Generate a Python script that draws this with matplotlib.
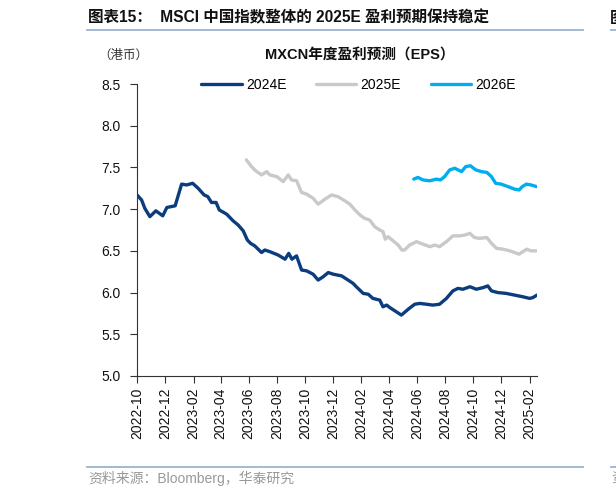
import matplotlib
matplotlib.use('Agg')
import matplotlib.pyplot as plt
import matplotlib.dates as mdates
import numpy as np
import pandas as pd

plt.rcParams['font.family'] = ['Liberation Sans', 'Noto Sans CJK SC', 'DejaVu Sans']

## Data
dates_2024e = ['2022-10-01', '2022-10-11', '2022-10-18', '2022-10-29', '2022-11-11', '2022-11-26',
               '2022-12-05', '2022-12-23', '2023-01-06', '2023-01-17', '2023-01-30', '2023-02-11',
               '2023-02-24', '2023-03-04', '2023-03-12', '2023-03-22', '2023-03-29', '2023-04-14',
               '2023-04-28', '2023-05-09', '2023-05-20', '2023-05-29', '2023-06-05', '2023-06-14',
               '2023-06-29', '2023-07-06', '2023-07-17', '2023-08-04', '2023-08-19', '2023-08-27',
               '2023-09-03', '2023-09-13', '2023-09-24', '2023-10-05', '2023-10-19', '2023-10-30',
               '2023-11-10', '2023-11-21', '2023-12-02', '2023-12-20', '2024-01-03', '2024-01-14',
               '2024-01-21', '2024-02-05', '2024-02-16', '2024-02-26', '2024-03-12', '2024-03-19',
               '2024-03-27', '2024-04-03', '2024-04-17', '2024-04-28', '2024-05-15', '2024-05-27',
               '2024-06-07', '2024-06-22', '2024-07-05', '2024-07-20', '2024-08-04', '2024-08-18',
               '2024-08-29', '2024-09-09', '2024-09-24', '2024-10-08', '2024-10-23', '2024-11-02',
               '2024-11-10', '2024-11-24', '2024-12-12', '2024-12-30', '2025-01-17', '2025-02-01',
               '2025-02-08', '2025-02-17']
eps_2024e = [7.17, 7.11, 7.01, 6.91, 6.98, 6.92, 7.02, 7.04, 7.30, 7.29, 7.31, 7.25,
             7.17, 7.15, 7.08, 7.08, 6.99, 6.94, 6.86, 6.81, 6.74, 6.63, 6.59, 6.56,
             6.48, 6.51, 6.49, 6.45, 6.40, 6.47, 6.40, 6.44, 6.27, 6.26, 6.22, 6.15,
             6.19, 6.24, 6.22, 6.20, 6.15, 6.11, 6.07, 5.99, 5.98, 5.93, 5.91, 5.83,
             5.85, 5.82, 5.77, 5.73, 5.81, 5.86, 5.87, 5.86, 5.85, 5.86, 5.93, 6.02,
             6.05, 6.04, 6.07, 6.04, 6.06, 6.08, 6.02, 6.00, 5.99, 5.97, 5.95, 5.93,
             5.94, 5.97]

dates_2025e = ['2023-05-27', '2023-06-07', '2023-06-16', '2023-06-29', '2023-07-10', '2023-07-17',
               '2023-08-01', '2023-08-15', '2023-08-26', '2023-09-02', '2023-09-13', '2023-09-24',
               '2023-10-05', '2023-10-19', '2023-10-30', '2023-11-14', '2023-11-28', '2023-12-12',
               '2023-12-27', '2024-01-07', '2024-01-18', '2024-01-29', '2024-02-08', '2024-02-19',
               '2024-03-01', '2024-03-12', '2024-03-19', '2024-03-24', '2024-03-30', '2024-04-10',
               '2024-04-21', '2024-04-29', '2024-05-05', '2024-05-16', '2024-05-31', '2024-06-14',
               '2024-06-29', '2024-07-10', '2024-07-20', '2024-08-04', '2024-08-18', '2024-09-02',
               '2024-09-13', '2024-09-24', '2024-10-04', '2024-10-15', '2024-10-31', '2024-11-10',
               '2024-11-21', '2024-12-05', '2024-12-20', '2024-12-30', '2025-01-09', '2025-01-17',
               '2025-01-26', '2025-02-04', '2025-02-16']
eps_2025e = [7.59, 7.51, 7.46, 7.41, 7.45, 7.41, 7.39, 7.33, 7.41, 7.35, 7.34, 7.20,
             7.18, 7.13, 7.06, 7.12, 7.17, 7.15, 7.10, 7.06, 6.99, 6.93, 6.89, 6.87,
             6.79, 6.75, 6.73, 6.64, 6.67, 6.62, 6.57, 6.51, 6.51, 6.57, 6.61, 6.58,
             6.55, 6.57, 6.55, 6.61, 6.68, 6.68, 6.69, 6.71, 6.66, 6.65, 6.66, 6.59,
             6.53, 6.52, 6.50, 6.48, 6.46, 6.49, 6.52, 6.50, 6.50]

dates_2026e = ['2024-05-25', '2024-06-03', '2024-06-14', '2024-06-29', '2024-07-13', '2024-07-22',
               '2024-07-31', '2024-08-11', '2024-08-22', '2024-09-06', '2024-09-15', '2024-09-25',
               '2024-10-07', '2024-10-19', '2024-10-31', '2024-11-10', '2024-11-19', '2024-12-01',
               '2024-12-16', '2024-12-30', '2025-01-09', '2025-01-16', '2025-01-25', '2025-02-04',
               '2025-02-16']
eps_2026e = [7.36, 7.38, 7.35, 7.34, 7.36, 7.35, 7.39, 7.47, 7.49, 7.45, 7.51, 7.52,
             7.47, 7.45, 7.44, 7.39, 7.31, 7.30, 7.27, 7.24, 7.23, 7.27, 7.30, 7.29,
             7.27]

series = [('2024E', dates_2024e, eps_2024e, '#0B3C7D'),
          ('2025E', dates_2025e, eps_2025e, '#C9C9C9'),
          ('2026E', dates_2026e, eps_2026e, '#00AEEF')]

## Plotting
W, H = 616, 497
fig = plt.figure(figsize=(W / 100, H / 100), dpi=100)
ax = fig.add_axes([137 / W, 1 - 376 / H, 400 / W, 292 / H])

for name, d, v, c in series:
    ax.plot(pd.to_datetime(d), v, color=c, lw=2.4, label=name, solid_capstyle='round')

ax.set_ylim(5.0, 8.5)
ax.set_yticks(np.arange(5.0, 8.51, 0.5))
ax.yaxis.set_major_formatter(matplotlib.ticker.FormatStrFormatter('%.1f'))
ax.set_xlim(pd.Timestamp('2022-10-01'), pd.Timestamp('2025-02-17'))
ax.xaxis.set_major_locator(mdates.MonthLocator(bymonth=[2, 4, 6, 8, 10, 12]))
ax.xaxis.set_major_formatter(mdates.DateFormatter('%Y-%m'))
plt.setp(ax.get_xticklabels(), rotation=90)
ax.tick_params(axis='both', labelsize=10, length=5, width=0.8, color='#333333', labelcolor='#111111')
ax.tick_params(axis='y', pad=7)

for s in ['top', 'right']:
    ax.spines[s].set_visible(False)
for s in ['left', 'bottom']:
    ax.spines[s].set_color('#333333')
    ax.spines[s].set_linewidth(0.8)

ax.legend(loc='center', bbox_to_anchor=(0.554, 0.997), ncol=3, frameon=False,
          fontsize=10, handlelength=2.9, columnspacing=2.15, handletextpad=0.3)

# titles and page furniture
fig.text(360 / W, 1 - 56 / H, 'MXCN年度盈利预测（EPS）', ha='center', va='center',
         fontsize=10.5, fontweight='bold', color='#111111')
fig.text(98 / W, 1 - 55 / H, '（港币）', ha='left', va='center', fontsize=9,
         color='#333333', family=['Noto Sans CJK SC', 'DejaVu Sans'])
fig.text(88 / W, 1 - 18 / H, '图表15：  MSCI 中国指数整体的 2025E 盈利预期保持稳定',
         ha='left', va='center', fontsize=11.2, fontweight='bold', color='#111111')
fig.text(88 / W, 1 - 478 / H, '资料来源：Bloomberg，华泰研究', ha='left', va='center',
         fontsize=10, color='#999999')
fig.text(610 / W, 1 - 18 / H, '图', ha='left', va='center', fontsize=11.2,
         fontweight='bold', color='#111111', family=['Noto Sans CJK SC'])
fig.text(611 / W, 1 - 478 / H, '资', ha='left', va='center', fontsize=10,
         color='#999999', family=['Noto Sans CJK SC'])

line_kw = dict(color='#9DB3D1', lw=1.3, transform=fig.transFigure)
fig.add_artist(plt.Line2D([87 / W, 583 / W], [1 - 30 / H] * 2, **line_kw))
fig.add_artist(plt.Line2D([611 / W, 1.0], [1 - 30 / H] * 2, **line_kw))
fig.add_artist(plt.Line2D([87 / W, 583 / W], [1 - 467 / H] * 2, **line_kw))
fig.add_artist(plt.Line2D([611 / W, 1.0], [1 - 467 / H] * 2, **line_kw))

fig.savefig('out.png', dpi=100)
